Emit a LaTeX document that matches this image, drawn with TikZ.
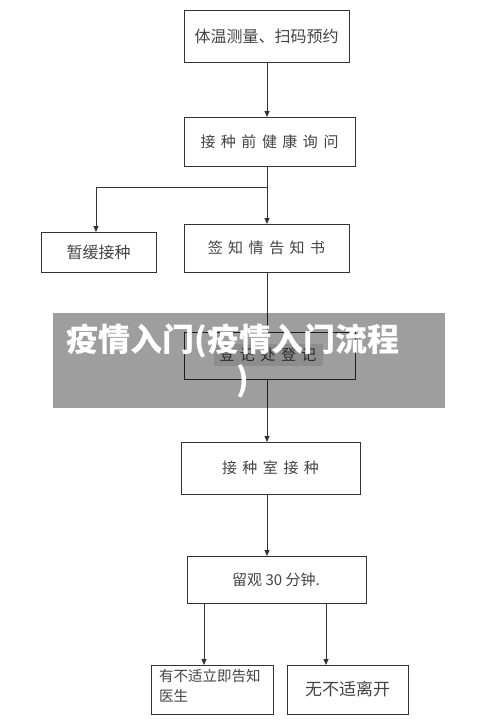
\documentclass[tikz,border=0pt]{standalone}
\usepackage{fontspec}
\setmainfont{Noto Sans CJK SC}
\usetikzlibrary{arrows.meta}
\definecolor{txt}{HTML}{444444}
\definecolor{ln}{HTML}{333333}
\newcommand{\gp}{\hspace{5.5pt}}
\begin{document}
\begin{tikzpicture}[x=1pt,y=-1pt,
  box/.style={draw=ln,line width=0.9pt,fill=white,inner sep=0pt},
  lbl/.style={text=txt,font=\fontsize{15}{17}\selectfont,inner sep=0pt},
  conn/.style={draw=ln,line width=0.8pt,-{Triangle[length=6pt,width=5pt]}},
  plain/.style={draw=ln,line width=0.8pt}]
\useasboundingbox (0,0) rectangle (500,723);
\fill[white] (0,0) rectangle (500,723);
% boxes
\draw[box] (184,10) rectangle (349,62) node[lbl,midway,font=\fontsize{16}{18}\selectfont] (t1) {体温测量、扫码预约};
\draw[box] (184,117) rectangle (355,166) node[lbl,midway] (t2) {接\gp 种\gp 前\gp 健\gp 康\gp 询\gp 问};
\draw[box] (41,232) rectangle (156,272) node[lbl,midway,font=\fontsize{16}{18}\selectfont] (t3) {暂缓接种};
\draw[box] (184,224) rectangle (349,272) node[lbl,midway] (t4) {签\gp 知\gp 情\gp 告\gp 知\gp 书};
\draw[box] (184,332) rectangle (355,379);
\node[lbl,fill=black!10,inner xsep=6pt,inner ysep=4pt] (t5) at (268,355) {登\gp 记\gp 处\gp 登\gp 记};
\draw[box] (181,442) rectangle (360,494) node[lbl,midway] (t6) {接\gp 种\gp 室\gp 接\gp 种};
\draw[box] (187,556) rectangle (366,603);
\node[lbl,anchor=west] (t7) at (232,580) {留观 30 分钟.};
\draw[box] (151,665) rectangle (273,714);
\node[lbl,anchor=north west,align=left,font=\fontsize{14.5}{20}\selectfont] (t8) at (159,669) {有不适立即告知\\医生};
\draw[box] (287,665) rectangle (408,714) node[lbl,midway,font=\fontsize{17}{19}\selectfont] (t9) {无不适离开};
% connectors
\coordinate (a1) at (267,62); \coordinate (a2) at (267,117);
\draw[conn] (a1) -- (a2);
\coordinate (c1) at (267,166); \coordinate (c2) at (267,187); \coordinate (c3) at (96,187);
\coordinate (c4) at (96,232); \coordinate (c5) at (267,224);
\draw[plain] (c1) -- (c2);
\draw[conn] (c2) -- (c3) -- (c4);
\draw[conn] (c2) -- (c5);
\coordinate (d1) at (267,272); \coordinate (d2) at (267,332);
\draw[plain] (d1) -- (d2);
\coordinate (e1) at (267,379); \coordinate (e2) at (267,442);
\draw[conn] (e1) -- (e2);
\coordinate (f1) at (267,494); \coordinate (f2) at (267,556);
\draw[conn] (f1) -- (f2);
\coordinate (g1) at (204,603); \coordinate (g2) at (204,665);
\coordinate (h1) at (326,603); \coordinate (h2) at (326,665);
\draw[conn] (g1) -- (g2);
\draw[conn] (h1) -- (h2);
% overlay banner
\fill[black,opacity=0.38] (53,313) rectangle (445,408);
\node[anchor=west,text=white,inner sep=0pt,font=\bfseries\fontsize{32}{34}\selectfont] (bt1) at (66,341) {疫情入门(疫情入门流程};
\node[anchor=west,text=white,inner sep=0pt,font=\bfseries\fontsize{32}{34}\selectfont] (bt2) at (236,381) {)};
\end{tikzpicture}
\end{document}
